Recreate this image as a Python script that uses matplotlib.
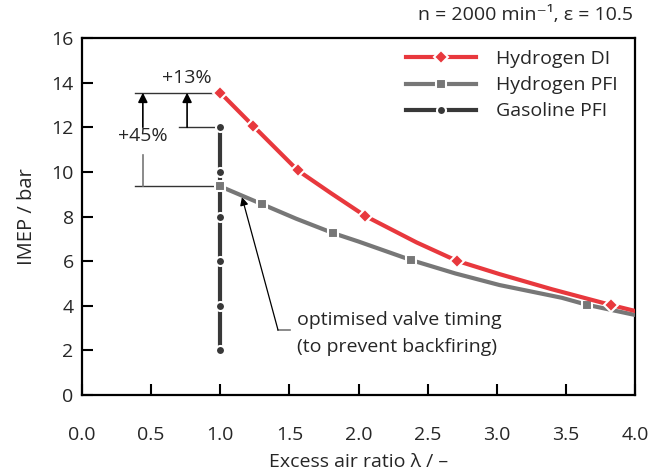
import matplotlib
matplotlib.use("Agg")
import matplotlib.pyplot as plt

plt.rcParams['font.family'] = ['Open Sans', 'DejaVu Sans']

# IMEP over excess air ratio at n = 2000 1/min
di_lam = [1.0, 1.24, 1.56, 1.80, 2.05, 2.42, 2.71, 3.02, 3.40, 3.83, 4.0]
di_imep = [13.55, 12.05, 10.07, 9.05, 8.02, 6.84, 6.02, 5.42, 4.74, 4.03, 3.77]
di_marks = [0, 1, 2, 4, 6, 9]

pfi_lam = [1.0, 1.30, 1.55, 1.815, 2.0, 2.38, 2.70, 3.02, 3.47, 3.65, 4.0]
pfi_imep = [9.35, 8.56, 7.90, 7.26, 6.88, 6.05, 5.45, 4.93, 4.36, 4.05, 3.59]
pfi_marks = [0, 1, 3, 5, 9]

gas_lam = [1.0, 1.0, 1.0, 1.0, 1.0, 1.0]
gas_imep = [2, 4, 6, 8, 10, 12]

xticks = [0.0, 0.5, 1.0, 1.5, 2.0, 2.5, 3.0, 3.5, 4.0]
yticks = [0, 2, 4, 6, 8, 10, 12, 14, 16]

red = '#e8383d'
grey = '#777777'
dark = '#383838'
txt = '#262626'
fs = 14

fig = plt.figure(figsize=(6.51, 4.72), dpi=100)
ax = fig.add_axes([0.126, 0.163, 0.8494, 0.7565])

ax.plot(gas_lam, gas_imep, color=dark, lw=3, marker='o', ms=6.5,
        mec='white', mew=1.5, label='Gasoline PFI', zorder=3)
ax.plot(pfi_lam, pfi_imep, color=grey, lw=3, marker='s', ms=6.5,
        mec='white', mew=1.5, markevery=pfi_marks, label='Hydrogen PFI', zorder=4)
ax.plot(di_lam, di_imep, color=red, lw=3, marker='D', ms=7,
        mec='white', mew=1.5, markevery=di_marks, label='Hydrogen DI', zorder=5)

ax.set_xlim(0, 4)
ax.set_ylim(0, 16)
ax.set_xticks(xticks)
ax.set_xticklabels([f'{v:.1f}' for v in xticks])
ax.set_yticks(yticks)
ax.tick_params(axis='both', direction='in', length=8, width=1.5,
               labelsize=fs, labelcolor=txt)
ax.tick_params(axis='x', pad=22)
ax.tick_params(axis='y', pad=6)
ax.tick_params(top=False, right=False)
for s in ax.spines.values():
    s.set_linewidth(1.6)

ax.set_xlabel('Excess air ratio λ / –', fontsize=fs, color=txt, labelpad=7)
ax.set_ylabel('IMEP / bar', fontsize=fs + 0.5, color=txt, labelpad=10)

# percentage gains at lambda = 1
lc = '#333333'
ax.plot([0.383, 0.99], [13.55, 13.55], color=lc, lw=1, zorder=2)
ax.plot([0.70, 0.97], [12.0, 12.0], color=lc, lw=1, zorder=2)
ax.plot([0.383, 0.98], [9.35, 9.35], color=lc, lw=1, zorder=2)
ax.plot([0.44, 0.44], [9.35, 10.75], color=grey, lw=1.2, zorder=2)
ax.annotate('', xy=(0.44, 13.55), xytext=(0.44, 12.0),
            arrowprops=dict(arrowstyle='-|>', color='black', lw=1.2,
                            mutation_scale=14, shrinkA=0, shrinkB=0))
ax.annotate('', xy=(0.76, 13.55), xytext=(0.76, 12.0),
            arrowprops=dict(arrowstyle='-|>', color='black', lw=1.2,
                            mutation_scale=14, shrinkA=0, shrinkB=0))
ax.text(0.44, 11.6, '+45%', ha='center', va='center', fontsize=fs, color=txt)
ax.text(0.76, 14.2, '+13%', ha='center', va='center', fontsize=fs, color=txt)

# valve timing note
ax.annotate('', xy=(1.157, 8.87), xytext=(1.418, 2.91),
            arrowprops=dict(arrowstyle='-|>', color='black', lw=0.9,
                            mutation_scale=12, shrinkA=0, shrinkB=0))
ax.plot([1.418, 1.505], [2.91, 2.91], color=grey, lw=1.2)
ax.text(1.555, 3.36, 'optimised valve timing', ha='left', va='center',
        fontsize=fs, color=txt)
ax.text(1.555, 2.15, '(to prevent backfiring)', ha='left', va='center',
        fontsize=fs, color=txt)

handles, labels = ax.get_legend_handles_labels()
leg = ax.legend(handles[::-1], labels[::-1], loc='upper right', frameon=False,
                fontsize=fs, handlelength=3.6, handletextpad=1.0,
                labelspacing=0.42, bbox_to_anchor=(1.0, 1.015))
for t in leg.get_texts():
    t.set_color(txt)

fig.text(0.973, 0.968, 'n = 2000 min⁻¹, ε = 10.5', ha='right', va='center',
         fontsize=fs, color=txt)

fig.savefig('out.png', dpi=100)
